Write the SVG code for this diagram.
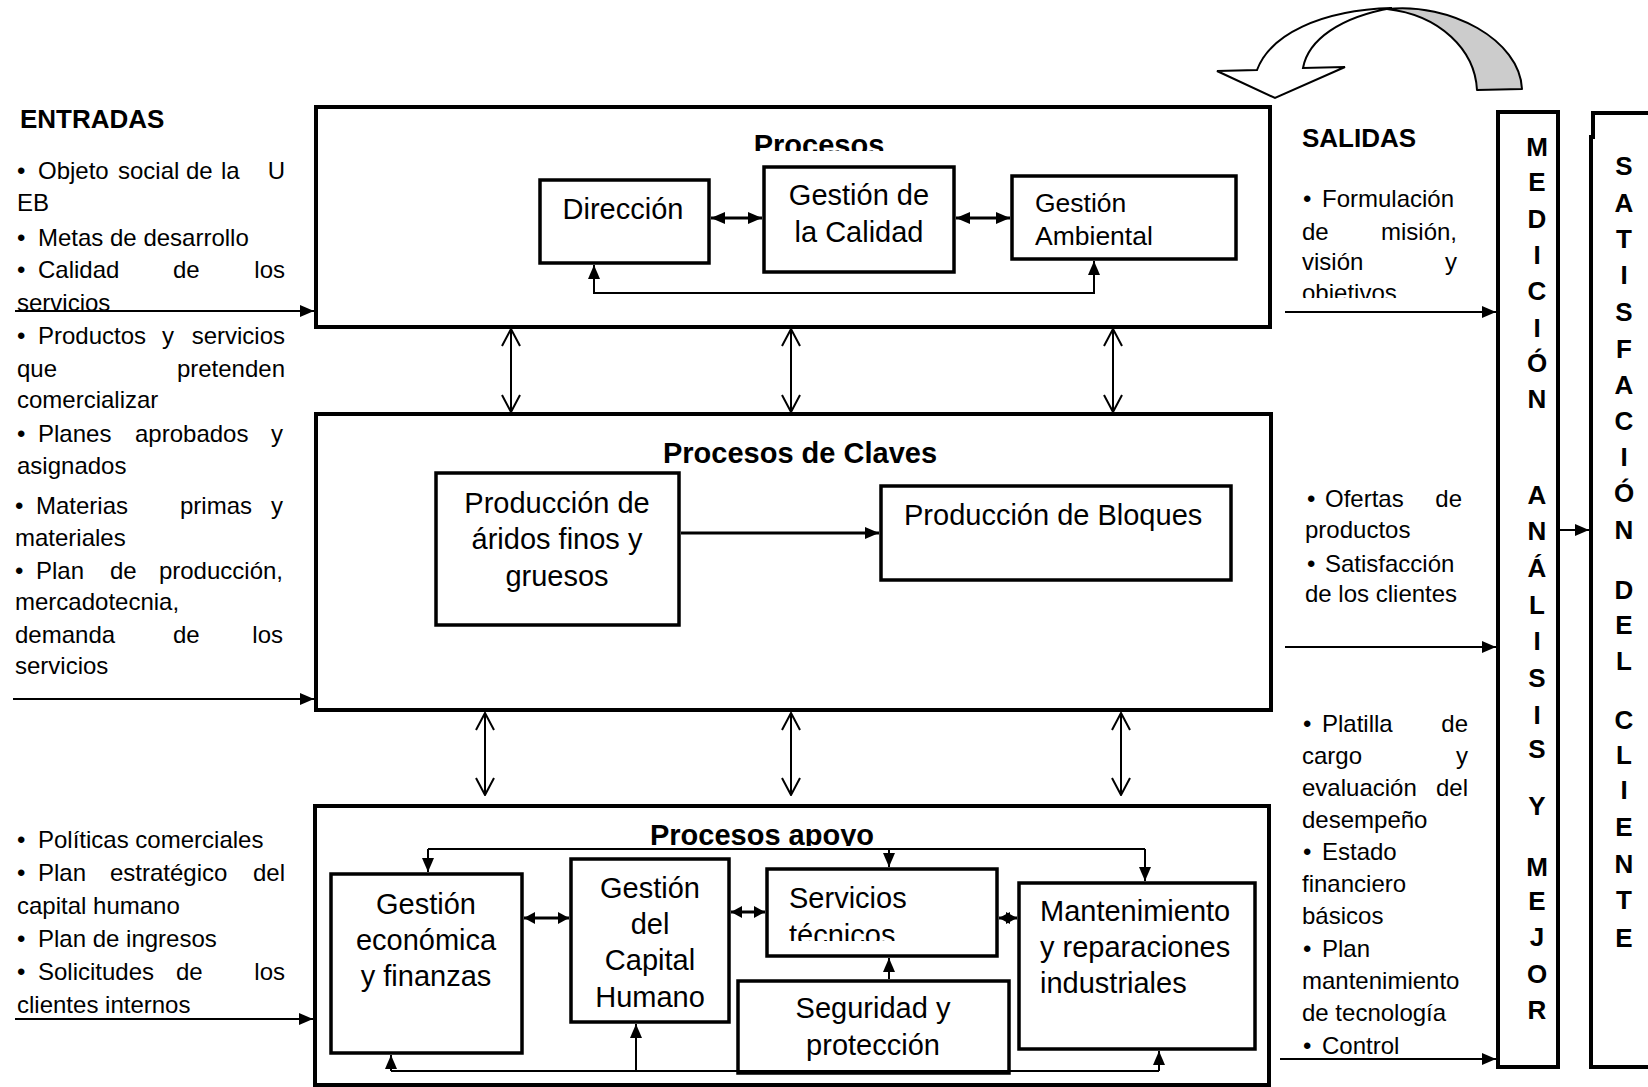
<svg xmlns="http://www.w3.org/2000/svg" width="1648" height="1087" viewBox="0 0 1648 1087">
<style>
.t{font-family:"Liberation Sans",Arial,sans-serif;font-size:24px;fill:#000}
.h{font-family:"Liberation Sans",Arial,sans-serif;font-size:26px;font-weight:bold;fill:#000}
.bx{font-family:"Liberation Sans",Arial,sans-serif;font-size:29px;fill:#000}
.bc{text-anchor:middle}
.ti{font-family:"Liberation Sans",Arial,sans-serif;font-size:29px;font-weight:bold;fill:#000;text-anchor:middle}
.vl{font-family:"Liberation Sans",Arial,sans-serif;font-size:26px;font-weight:bold;fill:#000;text-anchor:middle}
.big{fill:none;stroke:#000;stroke-width:4}
.box{fill:#fff;stroke:#000;stroke-width:3.5}
.c{fill:none;stroke:#000;stroke-width:2}
.fe{marker-end:url(#fa)}
.fd{marker-end:url(#fa);marker-start:url(#fa)}
.od{marker-end:url(#oa);marker-start:url(#oa)}
.sd{marker-end:url(#sa);marker-start:url(#sa)}
.e{text-anchor:end}
</style>
<defs>
<marker id="fa" markerUnits="userSpaceOnUse" viewBox="0 0 14 12" refX="14" refY="6" markerWidth="14" markerHeight="12" orient="auto-start-reverse"><path d="M0,0 L14,6 L0,12 z" fill="#000"/></marker>
<marker id="sa" markerUnits="userSpaceOnUse" viewBox="0 0 11 12" refX="11" refY="6" markerWidth="11" markerHeight="12" orient="auto-start-reverse"><path d="M0,0 L11,6 L0,12 z" fill="#000"/></marker>
<marker id="oa" markerUnits="userSpaceOnUse" viewBox="0 0 19 20" refX="18" refY="10" markerWidth="19" markerHeight="20" orient="auto-start-reverse"><path d="M1,1 L18,10 L1,19" fill="none" stroke="#000" stroke-width="2"/></marker>
<clipPath id="cpProc"><rect x="700" y="110" width="240" height="41"/></clipPath>
<clipPath id="cpApoyo"><rect x="600" y="810" width="320" height="36"/></clipPath>
<clipPath id="cpTec"><rect x="780" y="915" width="200" height="26"/></clipPath>
<clipPath id="cpObj"><rect x="1295" y="275" width="180" height="23"/></clipPath>
</defs>

<!-- containers -->
<g id="procesos-estrategicos">
<rect class="big" x="316" y="107" width="954" height="220"/>
<text class="ti" x="819" y="155" clip-path="url(#cpProc)">Procesos</text>
</g>
<g id="procesos-claves">
<rect class="big" x="316" y="414" width="955" height="296"/>
<text class="ti" x="800" y="463">Procesos de Claves</text>
</g>
<g id="procesos-apoyo">
<rect class="big" x="315" y="806" width="954" height="279"/>
<text class="ti" x="762" y="845" clip-path="url(#cpApoyo)">Procesos apoyo</text>
</g>

<!-- inner nodes -->
<g id="direccion"><rect class="box" x="540" y="180" width="169" height="83"/><text class="bx bc" x="623" y="219">Dirección</text></g>
<g id="gestion-calidad"><rect class="box" x="764" y="167" width="190" height="105"/><text class="bx bc" x="859" y="205">Gestión de</text><text class="bx bc" x="859" y="242">la Calidad</text></g>
<g id="gestion-ambiental"><rect class="box" x="1012" y="176" width="224" height="83"/><text class="t" style="font-size:26.5px" x="1035" y="212">Gestión</text><text class="t" style="font-size:26.5px" x="1035" y="245">Ambiental</text></g>

<g id="aridos"><rect class="box" x="436" y="473" width="243" height="152"/><text class="bx bc" x="557" y="513">Producción de</text><text class="bx bc" x="557" y="549">áridos finos y</text><text class="bx bc" x="557" y="586">gruesos</text></g>
<g id="bloques"><rect class="box" x="881" y="486" width="350" height="94"/><text class="bx" x="904" y="525">Producción de Bloques</text></g>

<g id="gestion-economica"><rect class="box" x="331" y="874" width="191" height="179"/><text class="bx bc" x="426" y="914">Gestión</text><text class="bx bc" x="426" y="950">económica</text><text class="bx bc" x="426" y="986">y finanzas</text></g>
<g id="capital-humano"><rect class="box" x="571" y="859" width="158" height="163"/><text class="bx bc" x="650" y="898">Gestión</text><text class="bx bc" x="650" y="934">del</text><text class="bx bc" x="650" y="970">Capital</text><text class="bx bc" x="650" y="1007">Humano</text></g>
<g id="servicios-tecnicos"><rect class="box" x="767" y="869" width="230" height="87"/><text class="bx" x="789" y="908">Servicios</text><text class="bx" x="789" y="945" clip-path="url(#cpTec)">técnicos</text></g>
<g id="seguridad"><rect class="box" x="738" y="981" width="271" height="92"/><text class="bx bc" x="873" y="1018">Seguridad y</text><text class="bx bc" x="873" y="1055">protección</text></g>
<g id="mantenimiento"><rect class="box" x="1019" y="883" width="236" height="166"/><text class="bx" x="1040" y="921">Mantenimiento</text><text class="bx" x="1040" y="957">y reparaciones</text><text class="bx" x="1040" y="993">industriales</text></g>

<!-- side boxes -->
<g id="medicion">
<rect class="big" x="1498" y="112" width="60" height="955"/>
<text class="vl" x="1537" y="156">M</text><text class="vl" x="1537" y="191">E</text><text class="vl" x="1537" y="228">D</text><text class="vl" x="1537" y="264">I</text><text class="vl" x="1537" y="300">C</text><text class="vl" x="1537" y="337">I</text><text class="vl" x="1537" y="372">Ó</text><text class="vl" x="1537" y="408">N</text>
<text class="vl" x="1537" y="504">A</text><text class="vl" x="1537" y="540">N</text><text class="vl" x="1537" y="577">Á</text><text class="vl" x="1537" y="614">L</text><text class="vl" x="1537" y="650">I</text><text class="vl" x="1537" y="687">S</text><text class="vl" x="1537" y="724">I</text><text class="vl" x="1537" y="758">S</text>
<text class="vl" x="1537" y="815">Y</text>
<text class="vl" x="1537" y="876">M</text><text class="vl" x="1537" y="910">E</text><text class="vl" x="1537" y="946">J</text><text class="vl" x="1537" y="983">O</text><text class="vl" x="1537" y="1019">R</text>
</g>
<g id="satisfaccion">
<path class="big" d="M1660,113 H1593 V137 H1591 V1067 H1660"/>
<text class="vl" x="1624" y="175">S</text><text class="vl" x="1624" y="212">A</text><text class="vl" x="1624" y="248">T</text><text class="vl" x="1624" y="284">I</text><text class="vl" x="1624" y="321">S</text><text class="vl" x="1624" y="358">F</text><text class="vl" x="1624" y="394">A</text><text class="vl" x="1624" y="430">C</text><text class="vl" x="1624" y="466">I</text><text class="vl" x="1624" y="502">Ó</text><text class="vl" x="1624" y="539">N</text>
<text class="vl" x="1624" y="599">D</text><text class="vl" x="1624" y="634">E</text><text class="vl" x="1624" y="670">L</text>
<text class="vl" x="1624" y="729">C</text><text class="vl" x="1624" y="764">L</text><text class="vl" x="1624" y="799">I</text><text class="vl" x="1624" y="836">E</text><text class="vl" x="1624" y="873">N</text><text class="vl" x="1624" y="909">T</text><text class="vl" x="1624" y="947">E</text>
</g>

<!-- entradas -->
<g id="entradas">
<text class="h" x="20" y="128">ENTRADAS</text>
<text class="t" y="179"><tspan x="17">•</tspan><tspan x="38">Objeto</tspan><tspan x="118">social</tspan><tspan x="186">de</tspan><tspan x="221">la</tspan></text><text class="t e" x="285" y="179">U</text>
<text class="t" x="17" y="211">EB</text>
<text class="t" y="246"><tspan x="17">•</tspan><tspan x="38">Metas de desarrollo</tspan></text>
<text class="t" y="278"><tspan x="17">•</tspan><tspan x="38">Calidad</tspan><tspan x="173">de</tspan></text><text class="t e" x="285" y="278">los</text>
<text class="t" x="17" y="311">servicios</text>
<text class="t" y="344"><tspan x="17">•</tspan><tspan x="38">Productos</tspan><tspan x="162">y</tspan></text><text class="t e" x="285" y="344">servicios</text>
<text class="t" x="17" y="377">que</text><text class="t e" x="285" y="377">pretenden</text>
<text class="t" x="17" y="408">comercializar</text>
<text class="t" y="442"><tspan x="17">•</tspan><tspan x="38">Planes</tspan><tspan x="135">aprobados</tspan></text><text class="t e" x="283" y="442">y</text>
<text class="t" x="17" y="474">asignados</text>
<text class="t" y="514"><tspan x="15">•</tspan><tspan x="36">Materias</tspan><tspan x="180">primas</tspan></text><text class="t e" x="283" y="514">y</text>
<text class="t" x="15" y="546">materiales</text>
<text class="t" y="579"><tspan x="15">•</tspan><tspan x="36">Plan</tspan><tspan x="110">de</tspan></text><text class="t e" x="283" y="579">producción,</text>
<text class="t" x="15" y="610">mercadotecnia,</text>
<text class="t" y="643"><tspan x="15">demanda</tspan><tspan x="173">de</tspan></text><text class="t e" x="283" y="643">los</text>
<text class="t" x="15" y="674">servicios</text>
<text class="t" y="848"><tspan x="17">•</tspan><tspan x="38">Políticas comerciales</tspan></text>
<text class="t" y="881"><tspan x="17">•</tspan><tspan x="38">Plan</tspan><tspan x="110">estratégico</tspan></text><text class="t e" x="285" y="881">del</text>
<text class="t" x="17" y="914">capital humano</text>
<text class="t" y="947"><tspan x="17">•</tspan><tspan x="38">Plan de ingresos</tspan></text>
<text class="t" y="980"><tspan x="17">•</tspan><tspan x="38">Solicitudes</tspan><tspan x="176">de</tspan></text><text class="t e" x="285" y="980">los</text>
<text class="t" x="17" y="1013">clientes internos</text>
</g>

<!-- salidas -->
<g id="salidas">
<text class="h" x="1302" y="147">SALIDAS</text>
<text class="t" y="207"><tspan x="1303">•</tspan><tspan x="1322">Formulación</tspan></text>
<text class="t" x="1302" y="240">de</text><text class="t e" x="1457" y="240">misión,</text>
<text class="t" x="1302" y="270">visión</text><text class="t e" x="1457" y="270">y</text>
<text class="t" x="1302" y="301" clip-path="url(#cpObj)">objetivos</text>
<text class="t" y="507"><tspan x="1307">•</tspan><tspan x="1325">Ofertas</tspan></text><text class="t e" x="1462" y="507">de</text>
<text class="t" x="1305" y="538">productos</text>
<text class="t" y="572"><tspan x="1307">•</tspan><tspan x="1325">Satisfacción</tspan></text>
<text class="t" x="1305" y="602">de los clientes</text>
<text class="t" y="732"><tspan x="1303">•</tspan><tspan x="1322">Platilla</tspan></text><text class="t e" x="1468" y="732">de</text>
<text class="t" x="1302" y="764">cargo</text><text class="t e" x="1468" y="764">y</text>
<text class="t" x="1302" y="796">evaluación</text><text class="t e" x="1468" y="796">del</text>
<text class="t" x="1302" y="828">desempeño</text>
<text class="t" y="860"><tspan x="1303">•</tspan><tspan x="1322">Estado</tspan></text>
<text class="t" x="1302" y="892">financiero</text>
<text class="t" x="1302" y="924">básicos</text>
<text class="t" y="957"><tspan x="1303">•</tspan><tspan x="1322">Plan</tspan></text>
<text class="t" x="1302" y="989">mantenimiento</text>
<text class="t" x="1302" y="1021">de tecnología</text>
<text class="t" y="1054"><tspan x="1303">•</tspan><tspan x="1322">Control</tspan></text>
</g>

<!-- feedback curved arrow -->
<g id="retroalimentacion">
<path d="M1387,9 C1450,2 1520,40 1522,89 L1477,90 C1475,50 1440,15 1387,9 z" fill="#cccccc" stroke="#000" stroke-width="2" stroke-linejoin="round"/>
<path d="M1257,70 C1270,35 1320,10 1392,8 C1340,17 1308,40 1303,68 L1345,67 L1275,98 L1217,71 z" fill="#fff" stroke="#000" stroke-width="2" stroke-linejoin="miter"/>
</g>

<!-- connectors -->
<g id="connectors">
<path class="c fe" d="M15,311 H314"/>
<path class="c fe" d="M13,699 H314"/>
<path class="c fe" d="M15,1019 H313"/>
<path class="c fe" d="M1285,312 H1496"/>
<path class="c fe" d="M1285,647 H1496"/>
<path class="c fe" d="M1280,1059 H1496"/>
<path class="c fe" d="M1560,530 H1589"/>
<path class="c od" d="M511,329 V412"/>
<path class="c od" d="M791,329 V412"/>
<path class="c od" d="M1113,329 V412"/>
<path class="c od" d="M485,713 V795"/>
<path class="c od" d="M791,713 V795"/>
<path class="c od" d="M1121,713 V795"/>
<path class="c fd" style="stroke-width:3" d="M711,218 H762"/>
<path class="c fd" style="stroke-width:3" d="M956,218 H1010"/>
<path class="c fd" d="M594,265 V293 H1094 V261"/>
<path class="c fe" style="stroke-width:3" d="M681,533 H879"/>
<path class="c" d="M428,849 H1145"/>
<path class="c fe" d="M428,849 V872"/>
<path class="c fe" d="M889,849 V867"/>
<path class="c fe" d="M1145,849 V881"/>
<path class="c sd" style="stroke-width:3" d="M524,918 H569"/>
<path class="c sd" style="stroke-width:3" d="M731,912 H765"/>
<path class="c sd" style="stroke-width:3" d="M999,918 H1017"/>
<path class="c fe" d="M889,979 V958"/>
<path class="c" d="M391,1071 H1159"/>
<path class="c fe" d="M391,1071 V1055"/>
<path class="c fe" d="M636,1071 V1024"/>
<path class="c fe" d="M1159,1071 V1051"/>
</g>
</svg>
